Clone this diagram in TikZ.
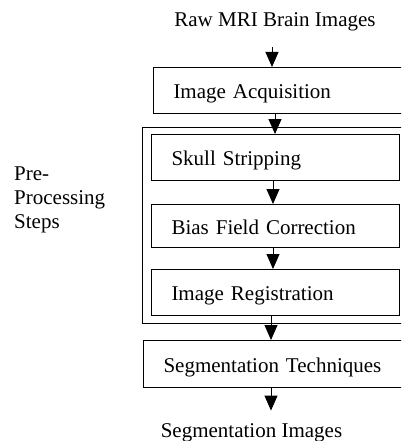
\documentclass[tikz,border=0pt]{standalone}
\usepackage{fontspec}
\setmainfont{Liberation Serif}
\usetikzlibrary{arrows.meta}

\begin{document}
\begin{tikzpicture}[x=1pt, y=-1pt,
  every node/.style={font=\fontsize{21}{24}\selectfont},
  stage/.style={draw, line width=1pt, rectangle, anchor=north west,
    inner xsep=20pt, inner ysep=0pt, text height=19pt, text depth=3pt, align=left},
  group/.style={draw, line width=1.3pt, rectangle, anchor=north west, inner sep=0pt},
  flow/.style={-{Triangle[width=13pt,length=15pt]}, line width=0.9pt},
]
\useasboundingbox (0,0) rectangle (401,441);
\clip (0,0) rectangle (401,441);

% input and output labels
\node[anchor=base] (raw) at (275,27) {Raw MRI Brain Images};
\node[anchor=base] (out) at (251.5,437) {Segmentation Images};

% acquisition stage
\node[stage, minimum width=267pt, minimum height=46pt, text width=227pt] (acq) at (153,67) {Image Acquisition};

% pre-processing group and its steps (label anchored on its last line)
\node[group, minimum width=278pt, minimum height=196pt] (pre) at (142,127) {};
\node[anchor=base west, align=left, inner sep=0pt] (prelabel) at (14,228) {Pre-\\Processing\\Steps};
\node[stage, minimum width=248pt, minimum height=46pt, text width=208pt] (skull) at (151,134) {Skull Stripping};
\node[stage, minimum width=248pt, minimum height=43pt, text width=208pt] (bias) at (151,204) {Bias Field Correction};
\node[stage, minimum width=248pt, minimum height=46pt, text width=208pt] (reg) at (151,269) {Image Registration};

% segmentation stage
\node[stage, minimum width=277pt, minimum height=47pt, text width=237pt] (seg) at (143,340) {Segmentation Techniques};

% arrow columns
\coordinate (c1) at (272,0);
\coordinate (c2) at (275,0);
\coordinate (c3) at (273,0);
\coordinate (c4) at (271,0);

% connectors
\draw[flow, shorten <=12pt] (raw.south -| c1) -- (acq.north -| c1);
\draw[flow] (acq.south -| c2) -- (skull.north -| c2);
\draw[flow] (skull.south -| c3) -- (bias.north -| c3);
\draw[flow] (bias.south -| c3) -- (reg.north -| c3);
\draw[flow] (reg.south -| c4) -- (seg.north -| c4);
\draw[flow, shorten >=9pt] (seg.south -| c4) -- (out.north -| c4);
\end{tikzpicture}
\end{document}
